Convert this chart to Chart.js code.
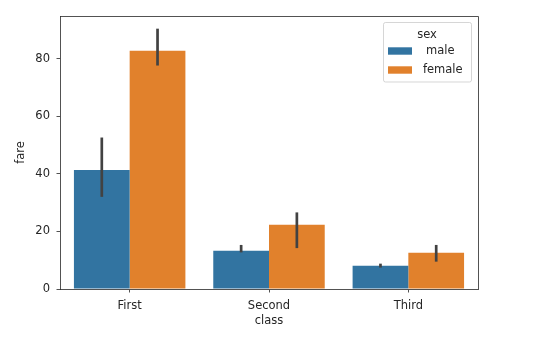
<!DOCTYPE html>
<html><head><meta charset="utf-8">
<script src="https://cdn.jsdelivr.net/npm/chart.js@4"></script>
<style>html,body{margin:0;padding:0;background:#fff}#wrap{width:533px;height:342px}</style>
</head><body><div id="wrap"><canvas id="c" width="533" height="342"></canvas></div>
<script>
const categories = ["First", "Second", "Third"];
const seriesNames = ["male", "female"];
const maleFare = [41.3, 13.3, 8.05];
const femaleFare = [82.7, 22.3, 12.6];
const maleErrLow = [32.0, 12.7, 7.45];
const maleErrHigh = [52.6, 15.3, 8.8];
const femaleErrLow = [77.6, 14.2, 9.5];
const femaleErrHigh = [90.4, 26.6, 15.3];
const yTicks = [0, 20, 40, 60, 80];
const yMax = 94.8;

const colors = ["#3274a1", "#e1812c"];
const FS = 11.5;
const FONT = {family: "DejaVu Sans", size: FS};
const TXT = "#262626";

const errPlugin = {
  id: "err",
  afterDatasetsDraw(chart) {
    const ctx = chart.ctx, y = chart.scales.y;
    const lows = [maleErrLow, femaleErrLow], highs = [maleErrHigh, femaleErrHigh];
    ctx.save();
    ctx.strokeStyle = "#424242"; ctx.lineWidth = 2.7; ctx.lineCap = "butt";
    chart.data.datasets.forEach((ds, i) => {
      chart.getDatasetMeta(i).data.forEach((bar, j) => {
        ctx.beginPath();
        ctx.moveTo(bar.x, y.getPixelForValue(lows[i][j]));
        ctx.lineTo(bar.x, y.getPixelForValue(highs[i][j]));
        ctx.stroke();
      });
    });
    ctx.restore();
  },
  afterDraw(chart) {
    const ctx = chart.ctx, a = chart.chartArea;
    ctx.save();
    ctx.strokeStyle = "#262626"; ctx.lineWidth = 0.8;
    ctx.beginPath();
    ctx.moveTo(a.left, a.top + 0.5); ctx.lineTo(a.right + 0.5, a.top + 0.5); ctx.lineTo(a.right + 0.5, a.bottom);
    ctx.stroke();
    // legend
    const lx = 383.5, ly = 22.5, lw = 88, lh = 59.5, r = 2;
    ctx.fillStyle = "rgba(255,255,255,0.8)";
    ctx.strokeStyle = "rgba(204,204,204,0.8)";
    ctx.lineWidth = 1;
    ctx.beginPath();
    ctx.moveTo(lx + r, ly); ctx.lineTo(lx + lw - r, ly); ctx.arcTo(lx + lw, ly, lx + lw, ly + r, r);
    ctx.lineTo(lx + lw, ly + lh - r); ctx.arcTo(lx + lw, ly + lh, lx + lw - r, ly + lh, r);
    ctx.lineTo(lx + r, ly + lh); ctx.arcTo(lx, ly + lh, lx, ly + lh - r, r);
    ctx.lineTo(lx, ly + r); ctx.arcTo(lx, ly, lx + r, ly, r);
    ctx.closePath(); ctx.fill(); ctx.stroke();
    ctx.font = FS + "px 'DejaVu Sans'";
    ctx.fillStyle = TXT;
    ctx.textBaseline = "middle";
    ctx.textAlign = "center";
    ctx.fillText("sex", 427, 35);
    ctx.textAlign = "left";
    chart.data.datasets.forEach((ds, i) => {
      const cy = 51 + i * 19;
      ctx.fillStyle = ds.backgroundColor;
      ctx.fillRect(388, cy - 3.7, 24, 7.4);
      ctx.fillStyle = TXT;
      ctx.fillText(ds.label, i === 0 ? 426 : 423, cy + 0.5);
    });
    ctx.restore();
  }
};

new Chart(document.getElementById("c"), {
  type: "bar",
  data: {
    labels: categories,
    datasets: [
      {label: seriesNames[0], data: maleFare, backgroundColor: colors[0]},
      {label: seriesNames[1], data: femaleFare, backgroundColor: colors[1]}
    ]
  },
  options: {
    responsive: false,
    animation: false,
    devicePixelRatio: 1,
    layout: {padding: {left: 0, top: 16, right: 55, bottom: 0}},
    datasets: {bar: {categoryPercentage: 0.8, barPercentage: 1.0, borderWidth: 0}},
    plugins: {legend: {display: false}, tooltip: {enabled: false}},
    scales: {
      x: {
        offset: true,
        grid: {display: true, drawOnChartArea: false, offset: false, tickLength: 3.5, tickColor: "#262626", tickWidth: 0.8},
        border: {display: true, color: "#262626", width: 0.8},
        ticks: {font: FONT, color: TXT, padding: 6.5, maxRotation: 0},
        title: {display: true, text: "class", font: FONT, color: TXT, padding: {top: 0, bottom: 14}},
        afterFit(s) { s.height = 53; }
      },
      y: {
        min: 0, max: yMax,
        grid: {display: true, drawOnChartArea: false, tickLength: 3.5, tickColor: "#262626", tickWidth: 0.8},
        border: {display: true, color: "#262626", width: 0.8},
        ticks: {font: FONT, color: TXT, padding: 6.5},
        afterBuildTicks(s) { s.ticks = yTicks.map(v => ({value: v})); },
        title: {display: true, text: "fare", font: FONT, color: TXT, padding: {top: 14.4, bottom: 0}},
        afterFit(s) { s.width = 60; }
      }
    }
  },
  plugins: [errPlugin]
});
</script>
</body></html>
